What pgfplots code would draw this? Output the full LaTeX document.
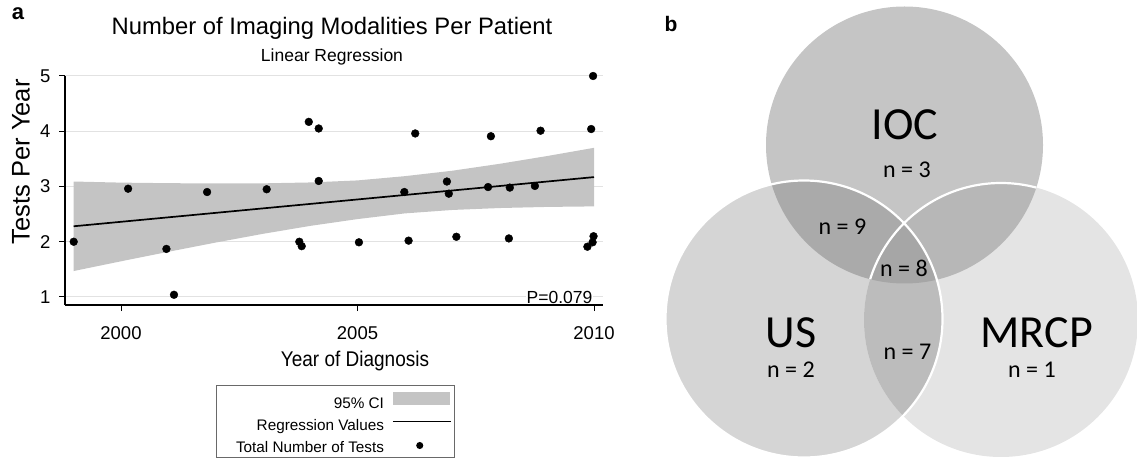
\documentclass[border=0pt]{standalone}
\usepackage{fontspec}
\setmainfont{Liberation Sans}
\newfontfamily\venn{Carlito}
\usepackage{graphicx}
\usepackage{pgfplots}
\pgfplotsset{compat=1.18}
\definecolor{band}{RGB}{196,196,196}
\definecolor{gridc}{RGB}{226,226,226}
\definecolor{legbox}{RGB}{105,105,105}
\definecolor{cIOC}{RGB}{197,197,197}
\definecolor{cUS}{RGB}{213,213,213}
\definecolor{cMR}{RGB}{228,228,228}
\definecolor{cIU}{RGB}{170,170,170}
\definecolor{cIM}{RGB}{183,183,183}
\definecolor{cUM}{RGB}{188,188,188}
\definecolor{cAll}{RGB}{166,166,166}
\newcommand{\fs}[1]{\fontsize{#1}{#1}\selectfont}

\pgfplotstableread{
x y
1999.00 2.00
2000.15 2.96
2000.96 1.87
2001.12 1.04
2001.82 2.90
2003.08 2.95
2003.77 2.00
2003.82 1.92
2003.97 4.17
2004.18 4.05
2004.18 3.10
2005.03 1.99
2005.99 2.90
2006.08 2.02
2006.22 3.96
2006.89 3.09
2006.93 2.87
2007.09 2.09
2007.76 2.99
2007.82 3.91
2008.20 2.06
2008.22 2.98
2008.75 3.01
2008.87 4.01
2009.86 1.91
2009.94 4.04
2009.97 1.99
2009.99 2.10
2009.98 5.00
}\tests

\begin{document}
\begin{tikzpicture}
\useasboundingbox (0pt,0pt) rectangle (1137pt,458pt);

% panel labels and titles
\node[font=\fs{22}\bfseries, anchor=base, inner sep=0pt] at (18pt,438pt) {a};
\node[font=\fs{23.8}, anchor=base, inner sep=0pt] at (332pt,423pt) {Number of Imaging Modalities Per Patient};
\node[font=\fs{17.5}, anchor=base, inner sep=0pt] at (332pt,396pt) {Linear Regression};

\begin{axis}[
  at={(65pt,153pt)}, anchor=south west,
  scale only axis, width=538pt, height=229pt,
  xmin=1998.816, xmax=2010.19, ymin=0.855, ymax=5,
  axis x line*=bottom, axis y line*=left,
  axis line style={black, line width=1.3pt, -},
  xtick={2000,2005,2010}, ytick={1,2,3,4,5},
  tick align=outside, major tick length=6pt,
  tick style={black, line width=1pt},
  ymajorgrids, grid style={gridc, line width=1pt},
  /pgf/number format/1000 sep={},
  /pgf/number format/assume math mode=true,
  ticklabel style={font=\fs{18.5}},
  xticklabel style={yshift=-12pt},
  yticklabel style={xshift=-5pt},
  xlabel={\scalebox{1}[1.12]{Year of Diagnosis}},
  xlabel style={font=\fs{19}, at={(axis description cs:0.539,-0.269)}, anchor=base},
  ylabel={Tests Per Year},
  ylabel style={font=\fs{25.5}, at={(axis description cs:-0.082,0.625)}, anchor=center},
  clip=false,
  legend plot pos=right,
  legend cell align=right,
  legend style={at={(axis description cs:0.7249,-0.3493)}, anchor=north east,
    draw=legbox, line width=1pt, fill=white, font=\fs{15.3},
    inner xsep=3pt, inner ysep=0pt, row sep=-6pt, column sep=6pt,
    nodes={inner sep=2pt, text height=21pt, text depth=3pt}},
]
\addplot[fill=band, draw=none,
  legend image code/.code={\fill[band] (0pt,-5.5pt) rectangle (57pt,7.5pt);}]
  coordinates {(1999,3.09)(2000,3.07)(2001,3.06)(2002,3.055)(2003,3.057)(2004,3.073)
  (2005,3.11)(2006,3.187)(2007,3.285)(2008,3.41)(2009,3.55)(2010,3.70)
  (2010,2.64)(2009,2.63)(2008,2.61)(2007,2.575)(2006,2.513)(2005,2.41)
  (2004,2.287)(2003,2.143)(2002,1.985)(2001,1.818)(2000,1.646)(1999,1.47)} -- cycle;
\addlegendentry{95\% CI}
\addplot[black, line width=1.7pt,
  legend image code/.code={\draw[black, line width=1.5pt] (0pt,0pt) -- (58pt,0pt);}]
  coordinates {(1999,2.28)(2010,3.17)};
\addlegendentry{Regression Values}
\addplot[only marks, mark=*, mark size=3.9pt, black,
  legend image code/.code={\path[draw=none, fill=none] (0pt,0pt) -- (58pt,0pt); \fill[black] (27pt,-2pt) circle (3pt);}]
  table[x=x, y=y] {\tests};
\addlegendentry{\hspace*{15pt}Total Number of Tests}
\node[anchor=east, font=\fs{17.5}, fill=white, inner sep=1pt] at (axis cs:2009.99,1.0) {P=0.079};
\end{axis}

% Venn diagram
\def\IOC{(904.5pt,313pt) circle[radius=138.5pt]}
\def\US{(804pt,139pt) circle[radius=138.5pt]}
\def\MR{(1001pt,138pt) circle[radius=137pt]}
\fill[cIOC] \IOC;
\fill[cUS] \US;
\fill[cMR] \MR;
\begin{scope}
  \clip \IOC;
  \fill[cIU] \US;
  \fill[cIM] \MR;
\end{scope}
\begin{scope}
  \clip \US;
  \fill[cUM] \MR;
  \clip \IOC;
  \fill[cAll] \MR;
\end{scope}
\begin{scope}
  \clip \IOC;
  \draw[white, line width=2.2pt] \MR;
\end{scope}
\draw[white, line width=2.2pt] \US;

\node[font=\fs{21}\bfseries, anchor=base, inner sep=0pt] at (671pt,426pt) {b};
\begin{scope}[every node/.style={inner sep=0pt}]
\node[font=\venn\fs{46}] at (905pt,333pt) {IOC};
\node[font=\venn\fs{24}] at (907pt,288pt) {n = 3};
\node[font=\venn\fs{24}] at (842.5pt,231.3pt) {n = 9};
\node[font=\venn\fs{24}] at (904pt,190pt) {n = 8};
\node[font=\venn\fs{46}] at (791pt,125pt) {US};
\node[font=\venn\fs{24}] at (791pt,88pt) {n = 2};
\node[font=\venn\fs{24}] at (907.5pt,106.3pt) {n = 7};
\node[font=\venn\fs{46}] at (1036.7pt,125pt) {MRCP};
\node[font=\venn\fs{24}] at (1032pt,88pt) {n = 1};
\end{scope}
\end{tikzpicture}
\end{document}
